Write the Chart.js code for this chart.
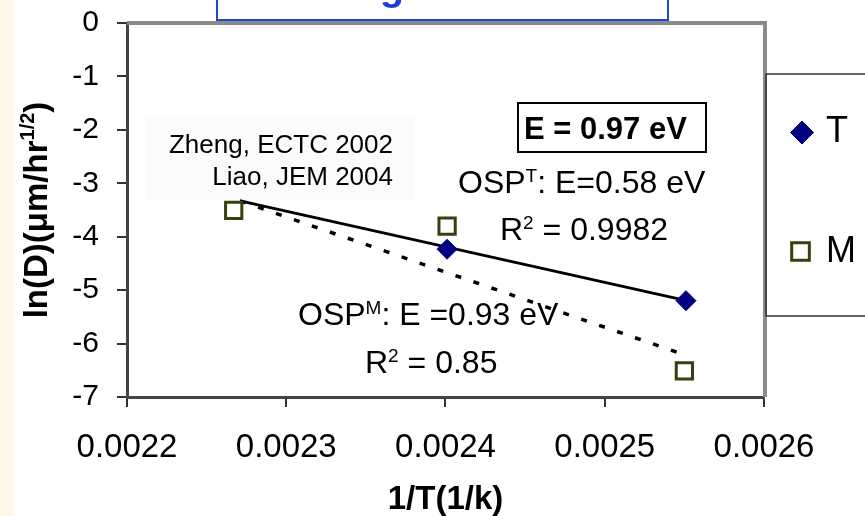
<!DOCTYPE html>
<html><head><meta charset="utf-8">
<script src="https://cdn.jsdelivr.net/npm/chart.js@4/dist/chart.umd.min.js"></script>
<style>html,body{margin:0;padding:0;background:#fff;overflow:hidden}#wrap{width:865px;height:516px}</style>
</head><body><div id="wrap"><canvas id="c" width="865" height="516"></canvas></div>
<script>
// ---- data ----
const xTicks = [0.0022, 0.0023, 0.0024, 0.0025, 0.0026];
const yTicks = [0, -1, -2, -3, -4, -5, -6, -7];
const seriesNames = ['T', 'M'];
const invT_T = [0.002401, 0.002551];
const lnD_T = [-4.234, -5.197];
const invT_M = [0.002267, 0.002401, 0.002550];
const lnD_M = [-3.507, -3.800, -6.510];
const trendT_x = [0.002271, 0.002552];
const trendT_y = [-3.33, -5.20];
const trendM_x = [0.002271, 0.002549];
const trendM_y = [-3.33, -6.20];

const pts = (xs, ys) => xs.map((x, i) => ({x: x, y: ys[i]}));
const FONT = '"Liberation Sans", Arial, sans-serif';

const styleT = {pointStyle: 'rectRot', radius: 10, bg: '#000080', border: '#000080', bw: 1};
const styleM = {pointStyle: 'rect', radius: 11.5, bg: '#ffffff', border: '#3d3d12', bw: 3};

function drawMarker(ctx, s, r, x, y) {
  ctx.save();
  ctx.fillStyle = s.bg; ctx.strokeStyle = s.border; ctx.lineWidth = s.bw;
  const H = Chart.helpers;
  if (H && H.drawPoint) {
    H.drawPoint(ctx, {pointStyle: s.pointStyle, radius: r, rotation: 0, borderWidth: s.bw}, x, y);
  } else {
    ctx.beginPath();
    if (s.pointStyle === 'rectRot') {
      ctx.moveTo(x - r, y); ctx.lineTo(x, y - r); ctx.lineTo(x + r, y); ctx.lineTo(x, y + r); ctx.closePath();
    } else { const h = r * Math.SQRT1_2; ctx.rect(x - h, y - h, 2 * h, 2 * h); }
    ctx.fill(); ctx.stroke();
  }
  ctx.restore();
}

function rich(ctx, parts, x, y, align) {
  let w = 0;
  parts.forEach(p => { ctx.font = (p[2] ? 'bold ' : '') + p[1] + 'px ' + FONT; w += ctx.measureText(p[0]).width; });
  let cx = align === 'right' ? x - w : (align === 'center' ? x - w / 2 : x);
  parts.forEach(p => {
    ctx.font = (p[2] ? 'bold ' : '') + p[1] + 'px ' + FONT;
    ctx.fillText(p[0], cx, y - (p[3] || 0));
    cx += ctx.measureText(p[0]).width;
  });
}

const decor = {
  id: 'decor',
  beforeDraw(chart) {
    const ctx = chart.ctx;
    ctx.save();
    ctx.fillStyle = '#ffffff'; ctx.fillRect(0, 0, chart.width, chart.height);
    ctx.fillStyle = '#fdf7ec'; ctx.fillRect(0, 0, 14, chart.height);
    ctx.fillStyle = '#fbfbfb'; ctx.fillRect(147, 117, 266, 83);
    ctx.strokeStyle = '#1c48d6'; ctx.lineWidth = 2;
    ctx.beginPath(); ctx.moveTo(217, -2); ctx.lineTo(217, 20); ctx.lineTo(668, 20); ctx.lineTo(668, -2); ctx.stroke();
    ctx.fillStyle = '#1c3fd0'; ctx.textBaseline = 'alphabetic';
    ctx.font = 'bold 40px ' + FONT; ctx.textAlign = 'center';
    ctx.fillText('g', 392, 0);
    ctx.restore();
  },
  beforeDatasetsDraw(chart) {
    const ctx = chart.ctx, a = chart.chartArea;
    ctx.save();
    ctx.strokeStyle = '#8a8a8a'; ctx.lineWidth = 4;
    ctx.beginPath(); ctx.moveTo(a.left, a.top); ctx.lineTo(a.right + 1, a.top); ctx.lineTo(a.right + 1, a.bottom); ctx.stroke();
    ctx.strokeStyle = '#333'; ctx.lineWidth = 1.5;
    ctx.beginPath(); ctx.moveTo(chart.width + 2, 74); ctx.lineTo(a.right + 2, 74); ctx.lineTo(a.right + 2, 316); ctx.lineTo(chart.width + 2, 316); ctx.stroke();
    ctx.restore();
  },
  afterDraw(chart) {
    const ctx = chart.ctx;
    ctx.save();
    ctx.fillStyle = '#000'; ctx.textBaseline = 'alphabetic';
    ctx.save();
    ctx.translate(47, 210); ctx.rotate(-Math.PI / 2);
    rich(ctx, [['ln(D)(\u03bcm/hr', 33, true, 0], ['1/2', 20, true, 13], [')', 33, true, 0]], 0, 0, 'center');
    ctx.restore();
    ctx.textAlign = 'left';
    rich(ctx, [['Zheng, ECTC 2002', 26, false, 0]], 393, 153, 'right');
    rich(ctx, [['Liao, JEM 2004', 26, false, 0]], 393, 185, 'right');
    ctx.strokeStyle = '#000'; ctx.lineWidth = 2;
    ctx.strokeRect(518, 103, 188, 49);
    rich(ctx, [['E = 0.97 eV', 31, true, 0]], 524, 139, 'left');
    rich(ctx, [['OSP', 32, false, 0], ['T', 19, false, 11], [': E=0.58 eV', 32, false, 0]], 458, 193, 'left');
    rich(ctx, [['R', 32, false, 0], ['2', 19, false, 11], [' = 0.9982', 32, false, 0]], 500, 240, 'left');
    rich(ctx, [['OSP', 32, false, 0], ['M', 19, false, 11], [': E =0.93 eV', 32, false, 0]], 298, 325, 'left');
    rich(ctx, [['R', 32, false, 0], ['2', 19, false, 11], [' = 0.85', 32, false, 0]], 365, 373, 'left');
    drawMarker(ctx, styleT, 11.5, 802, 132.5);
    drawMarker(ctx, styleM, 12.5, 800.5, 251.5);
    ctx.fillStyle = '#000';
    rich(ctx, [[seriesNames[0], 36, false, 0]], 826, 142, 'left');
    rich(ctx, [[seriesNames[1], 36, false, 0]], 826, 262, 'left');
    ctx.restore();
  }
};

new Chart(document.getElementById('c'), {
  type: 'scatter',
  data: {
    datasets: [
      {label: seriesNames[0], data: pts(invT_T, lnD_T), order: 0,
       pointStyle: styleT.pointStyle, pointRadius: styleT.radius, pointBackgroundColor: styleT.bg,
       pointBorderColor: styleT.border, pointBorderWidth: styleT.bw, showLine: false},
      {label: seriesNames[1], data: pts(invT_M, lnD_M), order: 0,
       pointStyle: styleM.pointStyle, pointRadius: styleM.radius, pointBackgroundColor: styleM.bg,
       pointBorderColor: styleM.border, pointBorderWidth: styleM.bw, showLine: false},
      {label: 'T fit', data: pts(trendT_x, trendT_y), order: 1, showLine: true, pointRadius: 0,
       borderColor: '#000', borderWidth: 2.7, fill: false},
      {label: 'M fit', data: pts(trendM_x, trendM_y), order: 1, showLine: true, pointRadius: 0,
       borderColor: '#000', borderWidth: 3.5, borderDash: [6, 13], fill: false}
    ]
  },
  options: {
    responsive: false, animation: false, devicePixelRatio: 1,
    layout: {padding: {left: 0, right: 101, top: 23, bottom: 0}},
    plugins: {legend: {display: false}, tooltip: {enabled: false}},
    scales: {
      x: {
        type: 'linear', min: 0.0022, max: 0.0026,
        afterBuildTicks: s => { s.ticks = xTicks.map(v => ({value: v})); },
        afterFit: s => { s.height = 119; s.paddingLeft = 0; s.paddingRight = 0; },
        ticks: {callback: v => v.toFixed(4), color: '#000', font: {family: FONT, size: 33}, padding: 21, maxRotation: 0, autoSkip: false},
        grid: {drawOnChartArea: false, drawTicks: true, tickLength: 10, color: '#333', lineWidth: 2},
        border: {display: true, color: '#444', width: 3},
        title: {display: true, text: '1/T(1/k)', color: '#000', font: {family: FONT, size: 33, weight: 'bold'}, padding: {top: 0, bottom: -4}}
      },
      y: {
        type: 'linear', min: -7, max: 0,
        afterBuildTicks: s => { s.ticks = yTicks.map(v => ({value: v})); },
        afterFit: s => { s.width = 127; s.paddingTop = 0; s.paddingBottom = 0; },
        ticks: {callback: v => String(v), color: '#000', font: {family: FONT, size: 30}, padding: 18, autoSkip: false},
        grid: {drawOnChartArea: false, drawTicks: true, tickLength: 10, color: '#333', lineWidth: 2},
        border: {display: true, color: '#444', width: 3}
      }
    }
  },
  plugins: [decor]
});
</script>
</body></html>
